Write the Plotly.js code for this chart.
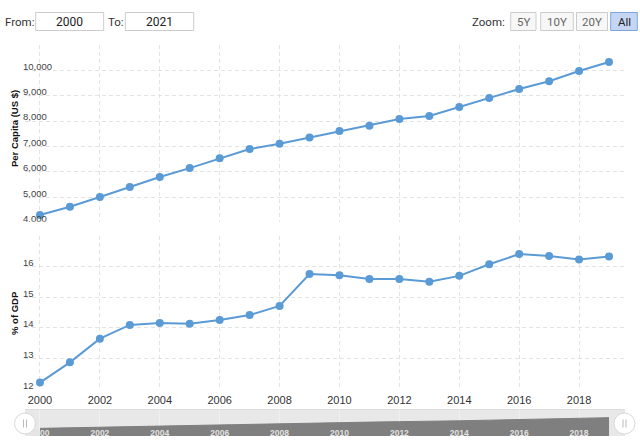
<!DOCTYPE html>
<html>
<head>
<meta charset="utf-8">
<script src="https://cdn.plot.ly/plotly-3.0.1.min.js"></script>
<style>
html,body{margin:0;padding:0;background:#fff;}
#chart{width:640px;height:444px;}
</style>
</head>
<body>
<div id="chart"></div>
<script>
// ---- data ----
const years = [2000, 2001, 2002, 2003, 2004, 2005, 2006, 2007, 2008, 2009,
               2010, 2011, 2012, 2013, 2014, 2015, 2016, 2017, 2018, 2019];
const perCapita = [4300, 4630, 5010, 5405, 5800, 6150, 6535, 6900, 7110, 7350,
                   7610, 7820, 8080, 8200, 8555, 8910, 9265, 9570, 9970, 10325];
const gdpPct = [12.22, 12.88, 13.65, 14.10, 14.16, 14.14, 14.26, 14.42, 14.72, 15.76,
                15.72, 15.60, 15.60, 15.51, 15.70, 16.08, 16.41, 16.35, 16.23, 16.33];
const xTickVals = [2000, 2002, 2004, 2006, 2008, 2010, 2012, 2014, 2016, 2018];
const xTickText = ["2000", "2002", "2004", "2006", "2008", "2010", "2012", "2014", "2016", "2018"];
const capTickVals = [4000, 5000, 6000, 7000, 8000, 9000, 10000, 11000];
const capTickText = ["4,000", "5,000", "6,000", "7,000", "8,000", "9,000", "10,000", ""];
const pctTickVals = [12, 13, 14, 15, 16, 17];
const pctTickText = ["12", "13", "14", "15", "16", ""];
const capTitle = "Per Capita (US $)";
const pctTitle = "% of GDP";
const fromYear = "2000";
const toYear = "2021";
const zoomButtons = ["5Y", "10Y", "20Y", "All"];

// ---- helpers (pixel -> paper) ----
const W = 640, H = 444;
const px = x => x / W;
const py = y => 1 - y / H;

const blue = '#5b9bd5';
const gridDash = '4px,3px';
const gridCol = '#e3e3e3';
const chartFont = 'Liberation Sans, Arial, sans-serif';
const uiFont = 'Roboto, Liberation Sans, Arial, sans-serif';

const traces = [
  {x: years, y: perCapita, xaxis: 'x', yaxis: 'y', type: 'scatter', mode: 'lines+markers',
   line: {color: blue, width: 2}, marker: {color: blue, size: 8}},
  {x: years, y: gdpPct, xaxis: 'x', yaxis: 'y2', type: 'scatter', mode: 'lines+markers',
   line: {color: blue, width: 2}, marker: {color: blue, size: 8}},
  {x: years, y: perCapita, xaxis: 'x2', yaxis: 'y3', type: 'scatter', mode: 'lines',
   fill: 'tozeroy', fillcolor: '#7f7f7f', line: {color: '#7f7f7f', width: 1}}
];

const xDomain = [px(25), px(624)];
const xRange = [1999.5, 2019.5];

const shapes = [];
const annotations = [];

// hide bottom gridline of top panel
shapes.push({type: 'line', xref: 'paper', yref: 'paper', layer: 'above',
  x0: px(25), x1: px(624), y0: py(222.7), y1: py(222.7),
  line: {color: '#ffffff', width: 2}});

// navigator band
shapes.push({type: 'rect', xref: 'paper', yref: 'paper', layer: 'below',
  x0: px(25), x1: px(625), y0: py(436), y1: py(409),
  fillcolor: '#e8e8e8', line: {width: 0}});
shapes.push({type: 'line', xref: 'paper', yref: 'paper', layer: 'below',
  x0: px(25), x1: px(625), y0: py(409.5), y1: py(409.5),
  line: {color: '#dcdcdc', width: 1}});

// navigator handles
[25, 624.5].forEach(cx => {
  shapes.push({type: 'circle', xref: 'paper', yref: 'paper', layer: 'above',
    x0: px(cx - 10.5), x1: px(cx + 10.5), y0: py(434), y1: py(413),
    fillcolor: '#ffffff', line: {color: '#d8d8d8', width: 1}});
  [-1.5, 1.5].forEach(dx => {
    shapes.push({type: 'line', xref: 'paper', yref: 'paper', layer: 'above',
      x0: px(cx + dx), x1: px(cx + dx), y0: py(427.5), y1: py(419.5),
      line: {color: '#bbbbbb', width: 1}});
  });
});

// top controls: inputs
[[35.7, 103.7, fromYear], [125.3, 193.7, toYear]].forEach(([a, b, t]) => {
  shapes.push({type: 'rect', xref: 'paper', yref: 'paper', layer: 'above',
    x0: px(a), x1: px(b), y0: py(30.5), y1: py(12.5),
    fillcolor: '#ffffff', line: {color: '#cccccc', width: 1}});
  annotations.push({xref: 'paper', yref: 'paper', x: px((a + b) / 2), y: py(21.5),
    xanchor: 'center', yanchor: 'middle', showarrow: false, text: t,
    font: {family: uiFont, size: 12, color: '#222'}});
});
annotations.push({xref: 'paper', yref: 'paper', x: px(3), y: py(21.5), xanchor: 'left', yanchor: 'middle',
  showarrow: false, text: 'From:', font: {family: uiFont, size: 11.5, color: '#333'}});
annotations.push({xref: 'paper', yref: 'paper', x: px(106), y: py(21.5), xanchor: 'left', yanchor: 'middle',
  showarrow: false, text: 'To:', font: {family: uiFont, size: 11.5, color: '#333'}});
annotations.push({xref: 'paper', yref: 'paper', x: px(507), y: py(21.5), xanchor: 'right', yanchor: 'middle',
  showarrow: false, text: 'Zoom:', font: {family: uiFont, size: 11.5, color: '#333'}});

// zoom buttons
const btnX = [[510.7, 536], [540.7, 573.3], [576.5, 607.5], [610.7, 637.3]];
zoomButtons.forEach((t, i) => {
  const [a, b] = btnX[i];
  const active = i === zoomButtons.length - 1;
  shapes.push({type: 'rect', xref: 'paper', yref: 'paper', layer: 'above',
    x0: px(a), x1: px(b), y0: py(30.5), y1: py(12.5),
    fillcolor: active ? '#c4d6f3' : '#f7f7f7',
    line: {color: active ? '#7fa3dc' : '#cccccc', width: 1}});
  annotations.push({xref: 'paper', yref: 'paper', x: px((a + b) / 2), y: py(21.5),
    xanchor: 'center', yanchor: 'middle', showarrow: false, text: t,
    font: {family: uiFont, size: 11.5, color: active ? '#222' : '#666'}});
});

// axis titles
annotations.push({xref: 'paper', yref: 'paper', x: px(14), y: py(129), xanchor: 'center', yanchor: 'middle',
  showarrow: false, textangle: -90, text: '<b>' + capTitle + '</b>',
  font: {family: chartFont, size: 9.5, color: '#111'}});
annotations.push({xref: 'paper', yref: 'paper', x: px(14), y: py(313), xanchor: 'center', yanchor: 'middle',
  showarrow: false, textangle: -90, text: '<b>' + pctTitle + '</b>',
  font: {family: chartFont, size: 9.5, color: '#111'}});

const yCommon = {
  ticks: '', side: 'right', anchor: 'free', position: px(22),
  ticklabelshift: -4,
  showgrid: true, gridcolor: gridCol, griddash: gridDash, gridwidth: 1,
  zeroline: false, showline: false,
  tickfont: {family: chartFont, size: 9.5, color: '#444'}
};

const layout = {
  width: W, height: H,
  margin: {l: 0, r: 0, t: 0, b: 0},
  paper_bgcolor: '#ffffff', plot_bgcolor: 'rgba(0,0,0,0)',
  showlegend: false, hovermode: false,
  font: {family: chartFont},
  xaxis: {domain: xDomain, range: xRange, anchor: 'y2',
    tickvals: xTickVals, ticktext: xTickText, ticks: '', ticklabelstandoff: 3,
    showgrid: true, gridcolor: gridCol, griddash: gridDash, gridwidth: 1,
    zeroline: false, showline: false,
    tickfont: {family: chartFont, size: 11, color: '#333'}},
  yaxis: Object.assign({}, yCommon, {domain: [py(222.7), py(44.9)], range: [4000, 11000],
    tickvals: capTickVals, ticktext: capTickText}),
  yaxis2: Object.assign({}, yCommon, {domain: [py(389.3), py(236)], range: [12, 17],
    tickvals: pctTickVals, ticktext: pctTickText}),
  xaxis2: {domain: xDomain, range: xRange, anchor: 'free', position: py(438), side: 'top',
    tickvals: xTickVals, ticktext: xTickText, ticks: '',
    showgrid: true, gridcolor: 'rgba(255,255,255,0.35)', gridwidth: 1,
    zeroline: false, showline: false,
    tickfont: {family: chartFont, size: 8.5, color: '#e2e2e2', weight: 'bold'}},
  yaxis3: {domain: [py(436), py(409)], range: [0, 15200], anchor: 'x2',
    showgrid: false, showticklabels: false, zeroline: false, showline: false, ticks: ''},
  shapes: shapes,
  annotations: annotations
};

Plotly.newPlot('chart', traces, layout, {displayModeBar: false, staticPlot: true});
</script>
</body>
</html>
